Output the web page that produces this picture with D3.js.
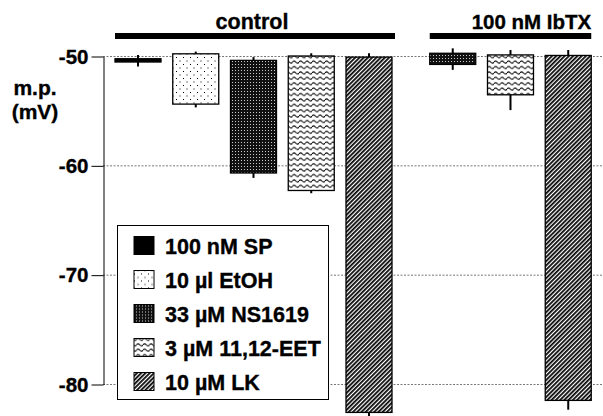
<!DOCTYPE html>
<html>
<head>
<meta charset="utf-8">
<script src="https://cdn.jsdelivr.net/npm/d3@7"></script>
<style>
  body { margin: 0; background: #fff; }
  text { font-family: "Liberation Sans", Arial, Helvetica, sans-serif; font-weight: bold; stroke: #000; stroke-width: 0.35px; }
</style>
</head>
<body>
<svg id="chart" width="603" height="416"></svg>
<script>
// data (membrane potential, mV)
var treatments = ["100 nM SP", "10 µl EtOH", "33 µM NS1619", "3 µM 11,12-EET", "10 µM LK"];
var groups = ["control", "100 nM IbTX"];
var barGroup = ["control", "control", "control", "control", "control", "100 nM IbTX", "100 nM IbTX", "100 nM IbTX"];
var barTreatment = ["100 nM SP", "10 µl EtOH", "33 µM NS1619", "3 µM 11,12-EET", "10 µM LK", "33 µM NS1619", "3 µM 11,12-EET", "10 µM LK"];
var mpBefore    = [-50.25, -49.8, -50.4, -50.0, -50.1, -49.75, -49.9, -49.95];
var mpBeforeErr = [0.35, 0.2, 0.3, 0.25, 0.35, 0.45, 0.45, 0.5];
var mpAfter     = [-50.55, -54.4, -60.7, -62.3, -82.6, -50.77, -53.55, -81.5];
var mpAfterErr  = [0.4, 0.3, 0.45, 0.25, 0.4, 0.5, 1.4, 0.85];
var yTicks = [-50, -60, -70, -80];

var svg = d3.select('#chart');
var defs = svg.append('defs');

// fill patterns, one per treatment
var p
p = defs.append('pattern').attr('id', 'pSP').attr('width', 4).attr('height', 4).attr('patternUnits', 'userSpaceOnUse');
p.append('rect').attr('width', 4).attr('height', 4).attr('fill', '#000');

p = defs.append('pattern').attr('id', 'pEtOH').attr('width', 7).attr('height', 7).attr('patternUnits', 'userSpaceOnUse');
p.append('rect').attr('width', 7).attr('height', 7).attr('fill', '#fff');
p.append('rect').attr('x', 1).attr('y', 1).attr('width', 1).attr('height', 1).attr('fill', '#000');
p.append('rect').attr('x', 4.5).attr('y', 4.5).attr('width', 1).attr('height', 1).attr('fill', '#000');

p = defs.append('pattern').attr('id', 'pNS').attr('width', 3).attr('height', 3).attr('patternUnits', 'userSpaceOnUse');
p.append('rect').attr('width', 3).attr('height', 3).attr('fill', '#111');
p.append('rect').attr('x', 1).attr('y', 1).attr('width', 1).attr('height', 1).attr('fill', '#ccc');

p = defs.append('pattern').attr('id', 'pEET').attr('width', 6.5).attr('height', 5.4).attr('patternUnits', 'userSpaceOnUse');
p.append('rect').attr('width', 6.5).attr('height', 5.4).attr('fill', '#fff');
p.append('path').attr('d', 'M0 2.7 Q1.625 0.6 3.25 2.7 T6.5 2.7').attr('fill', 'none').attr('stroke', '#000').attr('stroke-width', 1.1);

p = defs.append('pattern').attr('id', 'pLK').attr('width', 3).attr('height', 3).attr('patternUnits', 'userSpaceOnUse')
  .attr('patternTransform', 'rotate(45)');
p.append('rect').attr('width', 3).attr('height', 3).attr('fill', '#fff');
p.append('line').attr('x1', 0.9).attr('y1', 0).attr('x2', 0.9).attr('y2', 3).attr('stroke', '#000').attr('stroke-width', 1.75);

var fillOf = d3.scaleOrdinal()
  .domain(treatments)
  .range(['url(#pSP)', 'url(#pEtOH)', 'url(#pNS)', 'url(#pEET)', 'url(#pLK)']);

// scales
var y = d3.scaleLinear().domain([-50, -80]).range([56, 384]);
var groupGap = 0.45;  // extra slot space between the two groups
var slotX = d3.scaleLinear().domain([0, 1]).range([115, 172.75]);
var barW = 46;
function slotOf(i){
  return i + (barGroup[i] == groups[1] ? groupGap : 0);
}

// gridlines
svg.append('g').selectAll('line').data(yTicks).enter().append('line')
  .attr('x1', 103).attr('x2', 603)
  .attr('y1', function(d){ return y(d) + 0.5; }).attr('y2', function(d){ return y(d) + 0.5; })
  .attr('stroke', '#555').attr('stroke-width', 0.8).attr('stroke-dasharray', '2,1.5');

// y axis
var axis = svg.append('g').attr('transform', 'translate(103.5,0.5)')
  .call(d3.axisLeft(y).tickValues(yTicks).tickSize(12).tickSizeOuter(0).tickPadding(3).tickFormat(d3.format('d')));
axis.selectAll('path,line').attr('stroke', '#000').attr('stroke-width', 1);
axis.selectAll('text').attr('font-size', 20.5).attr('fill', '#000')
  .attr('font-family', '"Liberation Sans", Arial, sans-serif').attr('font-weight', 'bold')
  .text(function(d){ return '-' + Math.abs(d); });

svg.append('text').attr('x', 35).attr('y', 95).attr('text-anchor', 'middle').attr('font-size', 21).text('m.p.');
svg.append('text').attr('x', 35).attr('y', 119).attr('text-anchor', 'middle').attr('font-size', 21).text('(mV)');

// bars
var idx = d3.range(mpBefore.length);
var bars = svg.append('g');
bars.selectAll('rect').data(idx).enter().append('rect')
  .attr('x', function(i){ return slotX(slotOf(i)); })
  .attr('y', function(i){ return y(mpBefore[i]); })
  .attr('width', barW)
  .attr('height', function(i){ return y(mpAfter[i]) - y(mpBefore[i]); })
  .attr('fill', function(i){ return fillOf(barTreatment[i]); })
  .attr('stroke', '#000').attr('stroke-width', 1.3);

// error bars (top one goes up, bottom one goes down)
var err = svg.append('g').attr('stroke', '#000').attr('stroke-width', 2);
err.selectAll('.up').data(idx).enter().append('line').attr('class', 'up')
  .attr('x1', function(i){ return slotX(slotOf(i)) + barW / 2; })
  .attr('x2', function(i){ return slotX(slotOf(i)) + barW / 2; })
  .attr('y1', function(i){ return y(mpBefore[i]); })
  .attr('y2', function(i){ return y(mpBefore[i] + mpBeforeErr[i]); });
err.selectAll('.down').data(idx).enter().append('line').attr('class', 'down')
  .attr('x1', function(i){ return slotX(slotOf(i)) + barW / 2; })
  .attr('x2', function(i){ return slotX(slotOf(i)) + barW / 2; })
  .attr('y1', function(i){ return y(mpAfter[i]); })
  .attr('y2', function(i){ return y(mpAfter[i] - mpAfterErr[i]); });

// group headers
groups.forEach(function(g, gi){
  var members = idx.filter(function(i){ return barGroup[i] == g; });
  var x0 = slotX(slotOf(members[0]));
  var x1 = slotX(slotOf(members[members.length - 1])) + barW + (gi == 0 ? 3 : 0);
  svg.append('rect').attr('x', x0).attr('y', 33).attr('width', x1 - x0).attr('height', 6).attr('fill', '#000');
  svg.append('text')
    .attr('x', gi == 0 ? (x0 + x1) / 2 - 3 : x1)
    .attr('y', 29)
    .attr('text-anchor', gi == 0 ? 'middle' : 'end')
    .attr('font-size', gi == 0 ? 21.5 : 20.5)
    .text(g);
});

// legend
var leg = svg.append('g');
leg.append('rect').attr('x', 117.5).attr('y', 225.5).attr('width', 211).attr('height', 174)
  .attr('fill', '#fff').attr('stroke', '#000').attr('stroke-width', 1);
var rows = leg.selectAll('g.row').data(treatments).enter().append('g').attr('class', 'row')
  .attr('transform', function(d, i){ return 'translate(0,' + (245.5 + i * 34) + ')'; });
rows.append('rect').attr('x', 134).attr('y', -9).attr('width', 20).attr('height', 18)
  .attr('fill', function(d){ return fillOf(d); }).attr('stroke', '#000').attr('stroke-width', 1);
rows.append('text').attr('x', 165).attr('y', 8).attr('font-size', 21.5).text(function(d){ return d; });
</script>
</body>
</html>
